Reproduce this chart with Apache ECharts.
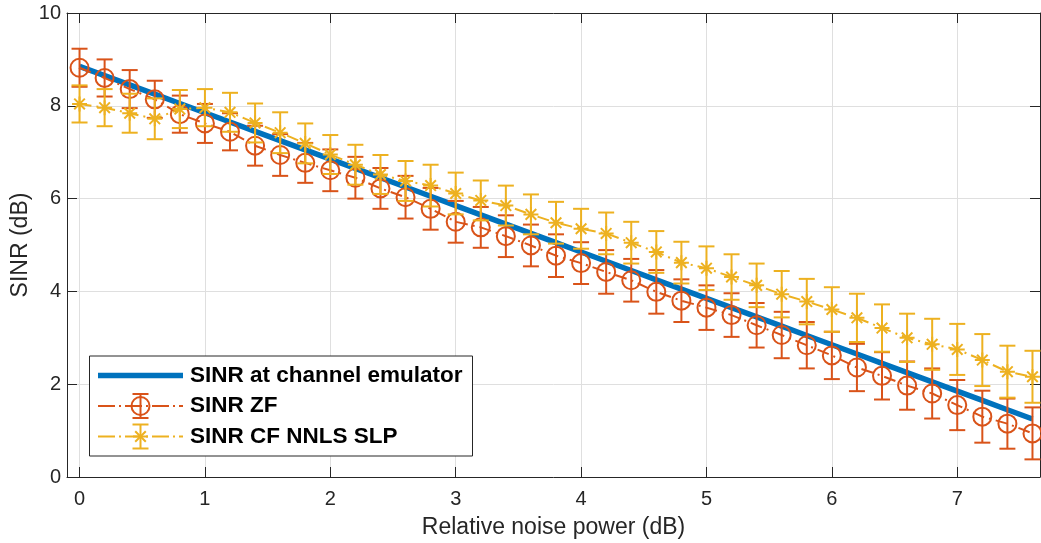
<!DOCTYPE html>
<html>
<head>
<meta charset="utf-8">
<script src="https://cdn.jsdelivr.net/npm/echarts@6/dist/echarts.min.js"></script>
<style>
html,body{margin:0;padding:0;background:#fff;}
#chart{width:1041px;height:543px;}
</style>
</head>
<body>
<div id="chart"></div>
<script>
// ---- data ----
const xValues = [0,0.2,0.4,0.6,0.8,1.0,1.2,1.4,1.6,1.8,2.0,2.2,2.4,2.6,2.8,3.0,3.2,3.4,3.6,3.8,4.0,4.2,4.4,4.6,4.8,5.0,5.2,5.4,5.6,5.8,6.0,6.2,6.4,6.6,6.8,7.0,7.2,7.4,7.6];
const emulatorSinr = [8.85,8.65,8.45,8.25,8.05,7.85,7.65,7.45,7.25,7.05,6.85,6.65,6.45,6.25,6.05,5.85,5.65,5.45,5.25,5.05,4.85,4.65,4.45,4.25,4.05,3.85,3.65,3.45,3.25,3.05,2.85,2.65,2.45,2.25,2.05,1.85,1.65,1.45,1.25];
const zfSinr = [8.82,8.60,8.36,8.14,7.82,7.62,7.44,7.14,6.94,6.77,6.61,6.45,6.22,6.03,5.78,5.50,5.38,5.19,4.99,4.77,4.61,4.42,4.24,3.99,3.80,3.65,3.49,3.27,3.06,2.84,2.62,2.36,2.18,1.97,1.80,1.55,1.30,1.15,0.94];
const zfErr = [0.41,0.40,0.41,0.40,0.40,0.42,0.40,0.43,0.45,0.43,0.45,0.45,0.44,0.46,0.45,0.45,0.44,0.45,0.45,0.46,0.45,0.47,0.46,0.47,0.46,0.48,0.47,0.48,0.50,0.50,0.51,0.51,0.51,0.52,0.54,0.54,0.56,0.54,0.56];
const cfSinr = [8.04,7.96,7.84,7.72,7.93,7.96,7.86,7.63,7.42,7.19,6.95,6.73,6.52,6.38,6.28,6.11,5.96,5.85,5.66,5.48,5.35,5.25,5.05,4.85,4.62,4.50,4.31,4.13,3.94,3.78,3.61,3.43,3.21,3.00,2.86,2.75,2.52,2.27,2.16];
const cfErr = [0.40,0.40,0.42,0.44,0.41,0.40,0.42,0.42,0.44,0.43,0.42,0.43,0.42,0.43,0.45,0.45,0.43,0.43,0.43,0.45,0.43,0.45,0.45,0.45,0.45,0.47,0.49,0.47,0.50,0.49,0.48,0.52,0.51,0.52,0.55,0.55,0.56,0.56,0.56];
const xTicks = [0,1,2,3,4,5,6,7];
const seriesNames = ['SINR at channel emulator','SINR ZF','SINR CF NNLS SLP'];

// ---- style ----
const BLUE = '#0072BD', RED = '#D95319', YEL = '#EDB120', AX = '#262626', GRID = '#dfdfdf';
const FONT = '"Liberation Sans", Arial, Helvetica, sans-serif';
const STAR = 'path://M0,-10L0,10M-10,0L10,0M-7.07,-7.07L7.07,7.07M-7.07,7.07L7.07,-7.07';
const DASHDOT = [12, 5, 2, 5];

const lineData = (ys) => xValues.map((x, i) => [x, ys[i]]);
const errData = (ys, es) => xValues.map((x, i) => [x, ys[i] - es[i], ys[i] + es[i]]);

function errRenderer(color) {
  return function (params, api) {
    const x = api.value(0), lo = api.value(1), hi = api.value(2);
    const a = api.coord([x, lo]), b = api.coord([x, hi]);
    const hw = 8;
    const st = { stroke: color, lineWidth: 2 };
    return {
      type: 'group',
      children: [
        { type: 'line', shape: { x1: a[0], y1: a[1], x2: b[0], y2: b[1] }, style: st },
        { type: 'line', shape: { x1: a[0] - hw, y1: a[1], x2: a[0] + hw, y2: a[1] }, style: st },
        { type: 'line', shape: { x1: b[0] - hw, y1: b[1], x2: b[0] + hw, y2: b[1] }, style: st }
      ]
    };
  };
}

const chart = echarts.init(document.getElementById('chart'), null, { renderer: 'canvas' });

const baseX = {
  type: 'value', min: -0.1, max: 7.66,
  axisLine: { show: true, onZero: false, lineStyle: { color: AX, width: 1 } },
  axisTick: { show: true, inside: true, length: 10, customValues: xTicks, lineStyle: { color: AX, width: 1 } }
};
const baseY = {
  type: 'value', min: 0, max: 10, interval: 2,
  axisLine: { show: true, onZero: false, lineStyle: { color: AX, width: 1 } },
  axisTick: { show: true, inside: true, length: 10, lineStyle: { color: AX, width: 1 } }
};

const legendTop = 356, legendLeft = 89.5;
const rows = [375.5, 406, 436.5];
const mx = 140.5;

function seg(x1, y1, x2, y2, color, w, dash) {
  const s = { stroke: color, lineWidth: w };
  if (dash) s.lineDash = dash;
  return { type: 'line', z: 101, shape: { x1: x1, y1: y1, x2: x2, y2: y2 }, style: s };
}

const graphics = [
  { type: 'rect', z: 100, shape: { x: legendLeft, y: legendTop, width: 383, height: 100 },
    style: { fill: '#fff', stroke: AX, lineWidth: 1 } },
  seg(98, rows[0], 183, rows[0], BLUE, 5.5),
  seg(98, rows[1], 183, rows[1], RED, 2, [17, 4, 2, 4]),
  seg(mx, rows[1] - 12, mx, rows[1] + 12, RED, 2),
  seg(mx - 8, rows[1] - 12, mx + 8, rows[1] - 12, RED, 2),
  seg(mx - 8, rows[1] + 12, mx + 8, rows[1] + 12, RED, 2),
  { type: 'circle', z: 101, shape: { cx: mx, cy: rows[1], r: 9 }, style: { fill: 'none', stroke: RED, lineWidth: 2 } },
  seg(98, rows[2], 183, rows[2], YEL, 2, [17, 4, 2, 4]),
  seg(mx, rows[2] - 12, mx, rows[2] + 12, YEL, 2),
  seg(mx - 8, rows[2] - 12, mx + 8, rows[2] - 12, YEL, 2),
  seg(mx - 8, rows[2] + 12, mx + 8, rows[2] + 12, YEL, 2),
  seg(mx - 7.5, rows[2], mx + 7.5, rows[2], YEL, 2),
  seg(mx - 5.3, rows[2] - 5.3, mx + 5.3, rows[2] + 5.3, YEL, 2),
  seg(mx - 5.3, rows[2] + 5.3, mx + 5.3, rows[2] - 5.3, YEL, 2)
];
seriesNames.forEach((n, i) => {
  graphics.push({ type: 'text', z: 101, x: 190, y: rows[i],
    style: { text: n, fill: '#000', fontFamily: FONT, fontSize: 22.5, fontWeight: 'bold', verticalAlign: 'middle', align: 'left' } });
});

const option = {
  animation: false,
  backgroundColor: '#fff',
  grid: { left: 67, right: 1, top: 13, bottom: 66, containLabel: false, outerBoundsMode: 'none' },
  xAxis: [
    Object.assign({}, baseX, {
      position: 'bottom',
      name: 'Relative noise power (dB)', nameLocation: 'middle', nameGap: 39, nameMoveOverlap: false,
      nameTextStyle: { fontFamily: FONT, fontSize: 23, color: AX },
      axisLabel: { show: true, customValues: xTicks, margin: 12, fontFamily: FONT, fontSize: 20, color: AX },
      splitLine: { show: true, lineStyle: { color: GRID, width: 1 } }
    }),
    Object.assign({}, baseX, {
      position: 'top',
      axisLabel: { show: false },
      splitLine: { show: false }
    })
  ],
  yAxis: [
    Object.assign({}, baseY, {
      position: 'left',
      name: 'SINR (dB)', nameLocation: 'middle', nameGap: 35, nameMoveOverlap: false,
      nameTextStyle: { fontFamily: FONT, fontSize: 23, color: AX },
      axisLabel: { show: true, margin: 6, fontFamily: FONT, fontSize: 20, color: AX },
      splitLine: { show: true, lineStyle: { color: GRID, width: 1 } }
    }),
    Object.assign({}, baseY, {
      position: 'right',
      axisLabel: { show: false },
      splitLine: { show: false }
    })
  ],
  series: [
    { name: seriesNames[0], type: 'line', data: lineData(emulatorSinr), showSymbol: false, symbol: 'none',
      lineStyle: { color: BLUE, width: 5.5 }, z: 2 },
    { name: seriesNames[1] + ' error', type: 'custom', data: errData(zfSinr, zfErr), renderItem: errRenderer(RED),
      encode: { x: 0, y: [1, 2] }, z: 3 },
    { name: seriesNames[1], type: 'line', data: lineData(zfSinr), symbol: 'circle', symbolSize: 18,
      lineStyle: { color: RED, width: 2, type: DASHDOT },
      itemStyle: { color: 'rgba(0,0,0,0)', borderColor: RED, borderWidth: 2 }, z: 4 },
    { name: seriesNames[2] + ' error', type: 'custom', data: errData(cfSinr, cfErr), renderItem: errRenderer(YEL),
      encode: { x: 0, y: [1, 2] }, z: 5 },
    { name: seriesNames[2], type: 'line', data: lineData(cfSinr), symbol: STAR, symbolSize: 15,
      lineStyle: { color: YEL, width: 2, type: DASHDOT },
      itemStyle: { color: 'rgba(0,0,0,0)', borderColor: YEL, borderWidth: 2 }, z: 6 }
  ],
  graphic: graphics
};
chart.setOption(option);
</script>
</body>
</html>
